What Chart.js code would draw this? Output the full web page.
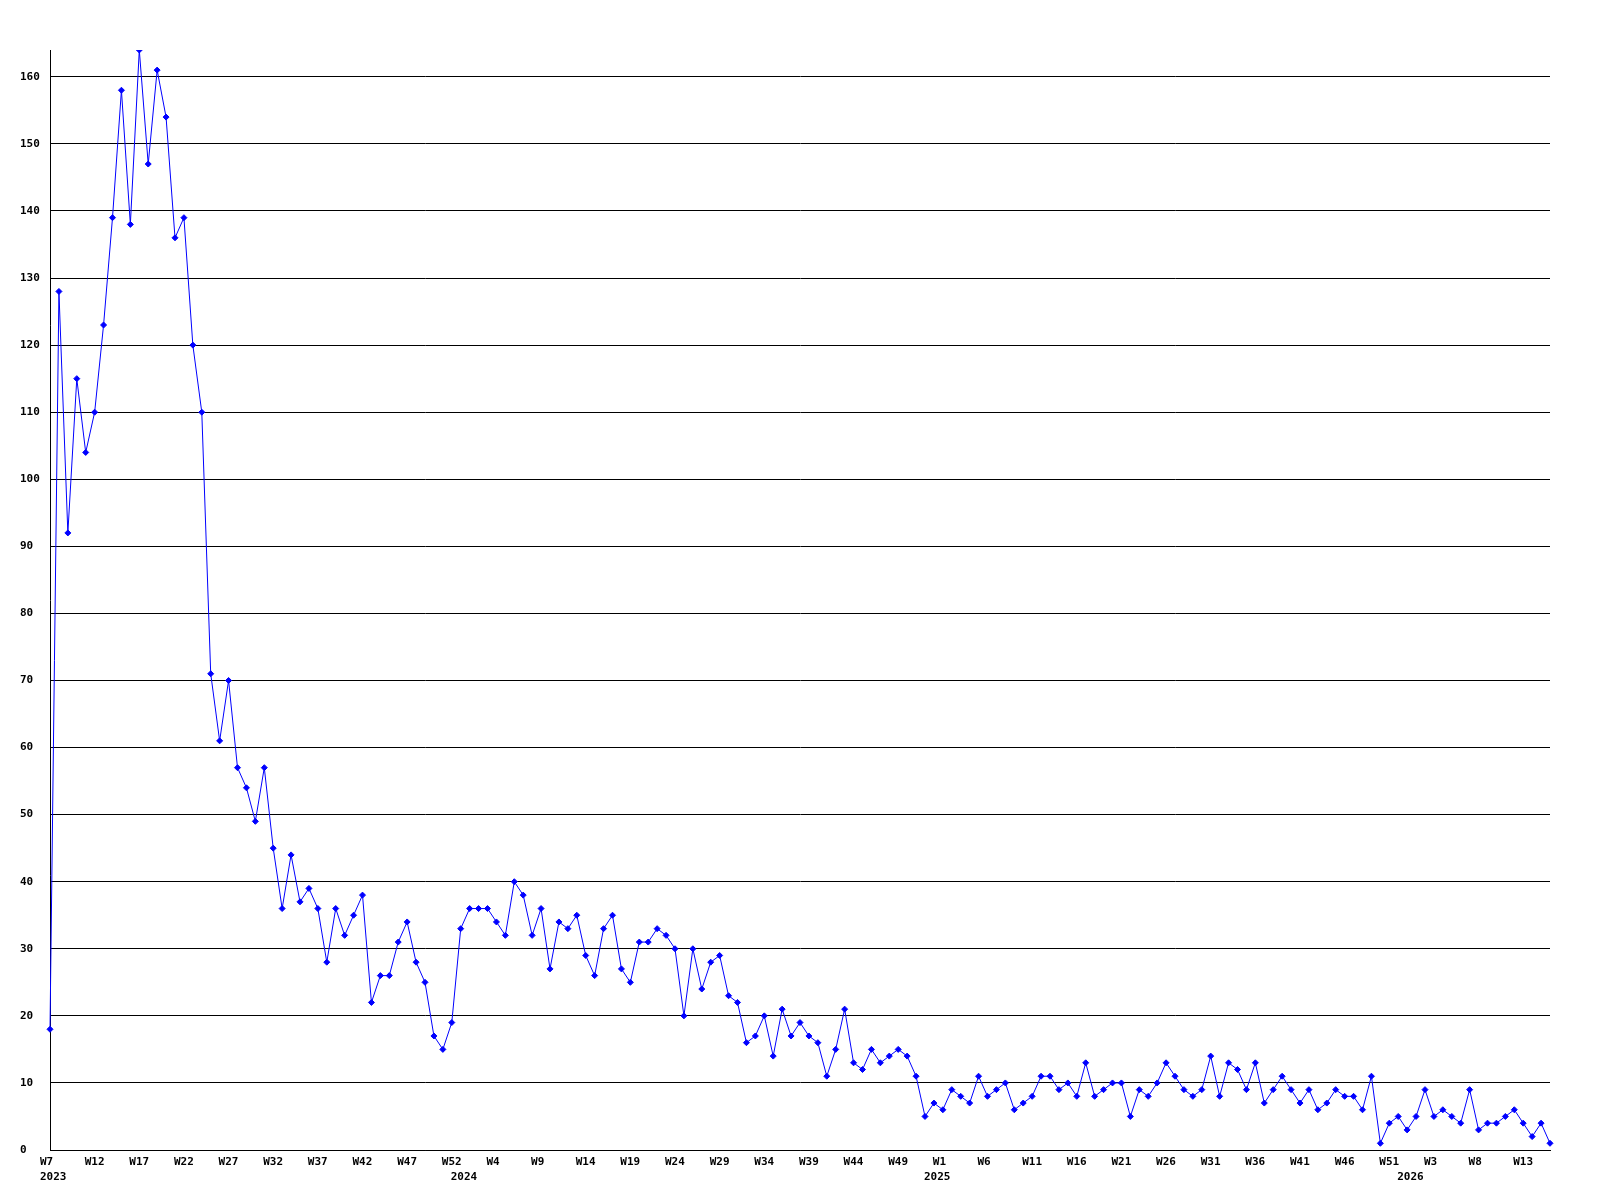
<!DOCTYPE html>
<html>
<head>
<meta charset="utf-8">
<script src="https://cdn.jsdelivr.net/npm/chart.js@4"></script>
<style>
  body { margin: 0; background: #ffffff; }
  #wrap { width: 1600px; height: 1200px; }
</style>
</head>
<body>
<div id="wrap"><canvas id="myChart" width="1600" height="1200"></canvas></div>
<script>
// weekly counts, one array per year
const years = [2023, 2024, 2025, 2026];
const firstWeeks = [7, 0, 0, 0];

const values2023 = [18, 128, 92, 115, 104, 110, 123, 139, 158, 138, 164, 147, 161, 154, 136, 139, 120, 110, 71, 61,
  70, 57, 54, 49, 57, 45, 36, 44, 37, 39, 36, 28, 36, 32, 35, 38, 22, 26, 26, 31,
  34, 28, 25, 17, 15, 19];
const values2024 = [33, 36, 36, 36, 34, 32, 40, 38, 32, 36, 27, 34, 33, 35, 29, 26, 33, 35, 27, 25,
  31, 31, 33, 32, 30, 20, 30, 24, 28, 29, 23, 22, 16, 17, 20, 14, 21, 17, 19, 17,
  16, 11, 15, 21, 13, 12, 15, 13, 14, 15, 14, 11, 5];
const values2025 = [7, 6, 9, 8, 7, 11, 8, 9, 10, 6, 7, 8, 11, 11, 9, 10, 8, 13, 8, 9,
  10, 10, 5, 9, 8, 10, 13, 11, 9, 8, 9, 14, 8, 13, 12, 9, 13, 7, 9, 11,
  9, 7, 9, 6, 7, 9, 8, 8, 6, 11, 1, 4, 5];
const values2026 = [3, 5, 9, 5, 6, 5, 4, 9, 3, 4, 4, 5, 6, 4, 2, 4, 1];

const yearValues = [values2023, values2024, values2025, values2026];

const yTickStep = 10;
const xLabelEvery = 5;

let labels = [];
let weekText = [];
let yearText = [];
let data = [];
yearValues.forEach((vals, y) => {
  vals.forEach((v, j) => {
    let wk = firstWeeks[y] + j;
    labels.push(`${years[y]} W${wk}`);
    weekText.push(`W${wk}`);
    yearText.push(j === 0 ? `${years[y]}` : "");
    data.push(v);
  });
});

const tickFont = { family: "'DejaVu Sans Mono', 'Liberation Mono', monospace", size: 11, weight: "bold", lineHeight: "15px" };

let config = {
  type: "line",
  data: {
    labels: labels,
    datasets: [
      {
        data: data,
        borderColor: "#0000ff",
        backgroundColor: "#0000ff",
        borderWidth: 1,
        pointStyle: "rectRot",
        pointRadius: 3,
        pointBorderWidth: 1,
        tension: 0,
        fill: false,
      },
    ],
  },
  options: {
    responsive: false,
    animation: false,
    layout: { padding: { left: 20, right: 50, top: 50, bottom: 0 } },
    plugins: { legend: { display: false }, tooltip: { enabled: false } },
    scales: {
      x: {
        type: "category",
        offset: false,
        grid: { display: false, drawTicks: false },
        border: { display: true, color: "#000000", width: 1 },
        afterFit: (scale) => { scale.height = 50; },
        ticks: {
          autoSkip: false,
          maxRotation: 0,
          minRotation: 0,
          align: "start",
          labelOffset: -10,
          padding: 5,
          color: "#000000",
          font: tickFont,
          callback: (value, index) => {
            let w = index % xLabelEvery === 0 ? weekText[index] : "";
            let yr = yearText[index];
            if (yr) return [w, yr];
            return w;
          },
        },
      },
      y: {
        min: 0,
        max: Math.max(...data),
        grid: { color: "#000000", lineWidth: 1, drawTicks: false },
        border: { display: true, color: "#000000", width: 1 },
        afterFit: (scale) => { scale.width = 30; },
        ticks: {
          stepSize: yTickStep,
          includeBounds: false,
          crossAlign: "far",
          padding: 10,
          color: "#000000",
          font: tickFont,
        },
      },
    },
  },
};

const myChart = new Chart(document.getElementById("myChart"), config);
</script>
</body>
</html>
